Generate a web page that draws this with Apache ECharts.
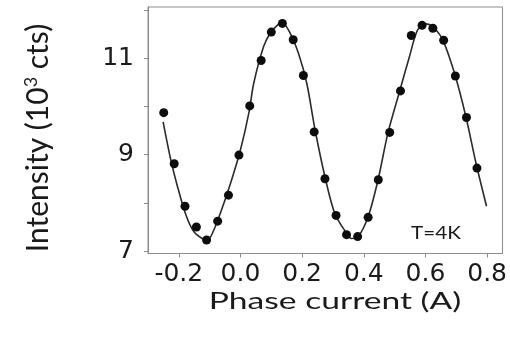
<!DOCTYPE html>
<html>
<head>
<meta charset="utf-8">
<script src="https://cdn.jsdelivr.net/npm/echarts@6/dist/echarts.min.js"></script>
<style>
  html, body { margin: 0; padding: 0; background: #fff; }
  #chart { width: 510px; height: 339px; }
</style>
</head>
<body>
<div id="chart"></div>
<script>
// Measured intensity vs. phase current
const currentPts = [-0.249, -0.215, -0.180, -0.143, -0.110, -0.074, -0.039, -0.005, 0.030, 0.067,
                    0.100, 0.136, 0.171, 0.204, 0.239, 0.274, 0.310, 0.344, 0.380, 0.414,
                    0.447, 0.484, 0.519, 0.554, 0.589, 0.624, 0.659, 0.697, 0.733, 0.767];
const intensityPts = [9.87, 8.81, 7.93, 7.50, 7.23, 7.62, 8.16, 8.99, 10.01, 10.95,
                      11.54, 11.72, 11.38, 10.64, 9.47, 8.50, 7.74, 7.34, 7.30, 7.70,
                      8.48, 9.46, 10.32, 11.47, 11.68, 11.62, 11.37, 10.63, 9.77, 8.72];

// Fitted oscillation curve
const fitCurrent = [-0.251, -0.226, -0.204, -0.177, -0.151, -0.124, -0.107, -0.091, -0.065, -0.032,
                    0.000, 0.027, 0.043, 0.075, 0.097, 0.124, 0.135, 0.161, 0.188, 0.215,
                    0.242, 0.274, 0.306, 0.344, 0.360, 0.382, 0.414, 0.446, 0.478, 0.516,
                    0.548, 0.575, 0.602, 0.624, 0.656, 0.694, 0.731, 0.764, 0.798];
const fitIntensity = [9.68, 8.89, 8.33, 7.75, 7.40, 7.26, 7.23, 7.37, 7.79, 8.41,
                      9.10, 9.86, 10.48, 11.24, 11.52, 11.71, 11.74, 11.52, 11.10, 10.48,
                      9.51, 8.54, 7.78, 7.37, 7.26, 7.30, 7.71, 8.47, 9.44, 10.31,
                      11.03, 11.59, 11.71, 11.65, 11.38, 10.69, 9.79, 8.82, 7.93];

// Axis ticks and labels
const xTicks = [-0.2, 0.0, 0.2, 0.4, 0.6, 0.8];
const yTicks = [7, 8, 9, 10, 11, 12];
const yLabels = [7, 9, 11];

const xTitle = 'Phase current (A)';
const tempNote = 'T=4K';

const chart = echarts.init(document.getElementById('chart'), null, { renderer: 'canvas' });
const frameColor = '#8c8c8c';
const labelFont = 'DejaVu Sans';
const titleFont = 'Lato';

chart.setOption({
  animation: false,
  backgroundColor: '#ffffff',
  grid: {
    left: 148, right: 7, top: 7, bottom: 85.5,
    show: true, borderColor: frameColor, borderWidth: 1
  },
  xAxis: {
    type: 'value', min: -0.3, max: 0.85,
    axisLine: { show: true, onZero: false, lineStyle: { color: frameColor, width: 1 } },
    axisTick: { show: true, length: 4, customValues: xTicks, lineStyle: { color: frameColor } },
    axisLabel: {
      customValues: xTicks, margin: 8,
      color: '#1a1a1a', fontFamily: labelFont, fontSize: 25,
      formatter: v => v.toFixed(1)
    },
    splitLine: { show: false }
  },
  yAxis: {
    type: 'value', min: 6.95, max: 12.06,
    axisLine: { show: true, onZero: false, lineStyle: { color: frameColor, width: 1 } },
    axisTick: { show: true, length: 4, customValues: yTicks, lineStyle: { color: frameColor } },
    axisLabel: {
      customValues: yLabels, margin: 14,
      color: '#1a1a1a', fontFamily: labelFont, fontSize: 25
    },
    splitLine: { show: false }
  },
  graphic: [
    {
      type: 'text', x: 38, y: 138, rotation: Math.PI / 2,
      style: {
        text: '{t|Intensity (10}{s|3}{t| cts)}',
        align: 'center', verticalAlign: 'middle',
        rich: {
          t: { fontFamily: titleFont, fontSize: 30, fill: '#1a1a1a' },
          s: { fontFamily: titleFont, fontSize: 18, fill: '#1a1a1a', verticalAlign: 'top', padding: [0, 0, 14, 0] }
        }
      }
    },
    {
      type: 'text', x: 335, y: 301, scaleX: 1.4,
      style: {
        text: xTitle, align: 'center', verticalAlign: 'middle',
        fontFamily: titleFont, fontSize: 24, fill: '#1a1a1a'
      }
    },
    {
      type: 'text', x: 436, y: 233, scaleX: 1.15,
      style: {
        text: tempNote, align: 'center', verticalAlign: 'middle',
        fontFamily: titleFont, fontSize: 18, fill: '#1a1a1a'
      }
    }
  ],
  series: [
    {
      type: 'line', name: 'fit',
      data: fitCurrent.map((x, i) => [x, fitIntensity[i]]),
      smooth: 0.3, showSymbol: false,
      lineStyle: { color: '#2b2b2b', width: 1.6 },
      z: 2
    },
    {
      type: 'scatter', name: 'data',
      data: currentPts.map((x, i) => [x, intensityPts[i]]),
      symbol: 'circle', symbolSize: 9,
      itemStyle: { color: '#0d0d0d', opacity: 1 },
      z: 3
    }
  ]
});
</script>
</body>
</html>
